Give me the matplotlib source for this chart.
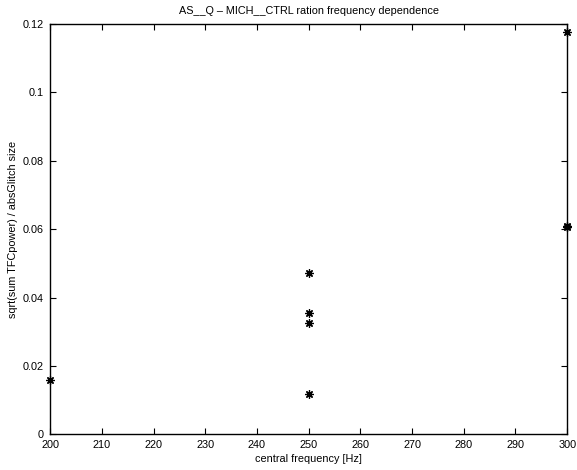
import matplotlib.pyplot as plt
import numpy as np

plt.rcParams['font.family'] = ['Liberation Sans', 'DejaVu Sans']

freq = [200, 250, 250, 250, 250, 300, 300, 300]
ratio = [0.0160, 0.0473, 0.0354, 0.0325, 0.0119, 0.1177, 0.0606, 0.0609]

x_ticks = np.arange(200, 301, 10)
y_ticks = [0, 0.02, 0.04, 0.06, 0.08, 0.1, 0.12]
y_labels = ['0', '0.02', '0.04', '0.06', '0.08', '0.1', '0.12']


def draw():
    fig, ax = plt.subplots()
    fig.set_size_inches(5.77, 4.70, forward=True)
    plt.subplots_adjust(left=0.087, right=0.983, bottom=0.076, top=0.949)

    ax.plot(freq, ratio, linestyle='none', marker=(8, 2, 0), markersize=6,
            markeredgewidth=0.9, color='black', clip_on=False)

    ax.set_xlim(200, 300)
    ax.set_ylim(0, 0.12)
    ax.set_xticks(x_ticks)
    ax.set_yticks(y_ticks)
    ax.set_yticklabels(y_labels)
    ax.tick_params(direction='in', length=4, width=0.8, labelsize=7.8,
                   top=True, right=True)
    ax.tick_params(axis='x', pad=4)
    ax.tick_params(axis='y', pad=5)
    for s in ax.spines.values():
        s.set_linewidth(1.0)

    ax.set_xlabel('central frequency [Hz]', fontsize=7.8, labelpad=3)
    ax.set_ylabel('sqrt(sum TFCpower) / absGlitch size', fontsize=7.8, labelpad=3)
    ax.set_title('AS__Q – MICH__CTRL ration frequency dependence', fontsize=7.8, pad=7)

    plt.savefig('out.png', dpi=100)


if __name__ == "__main__":
    draw()
